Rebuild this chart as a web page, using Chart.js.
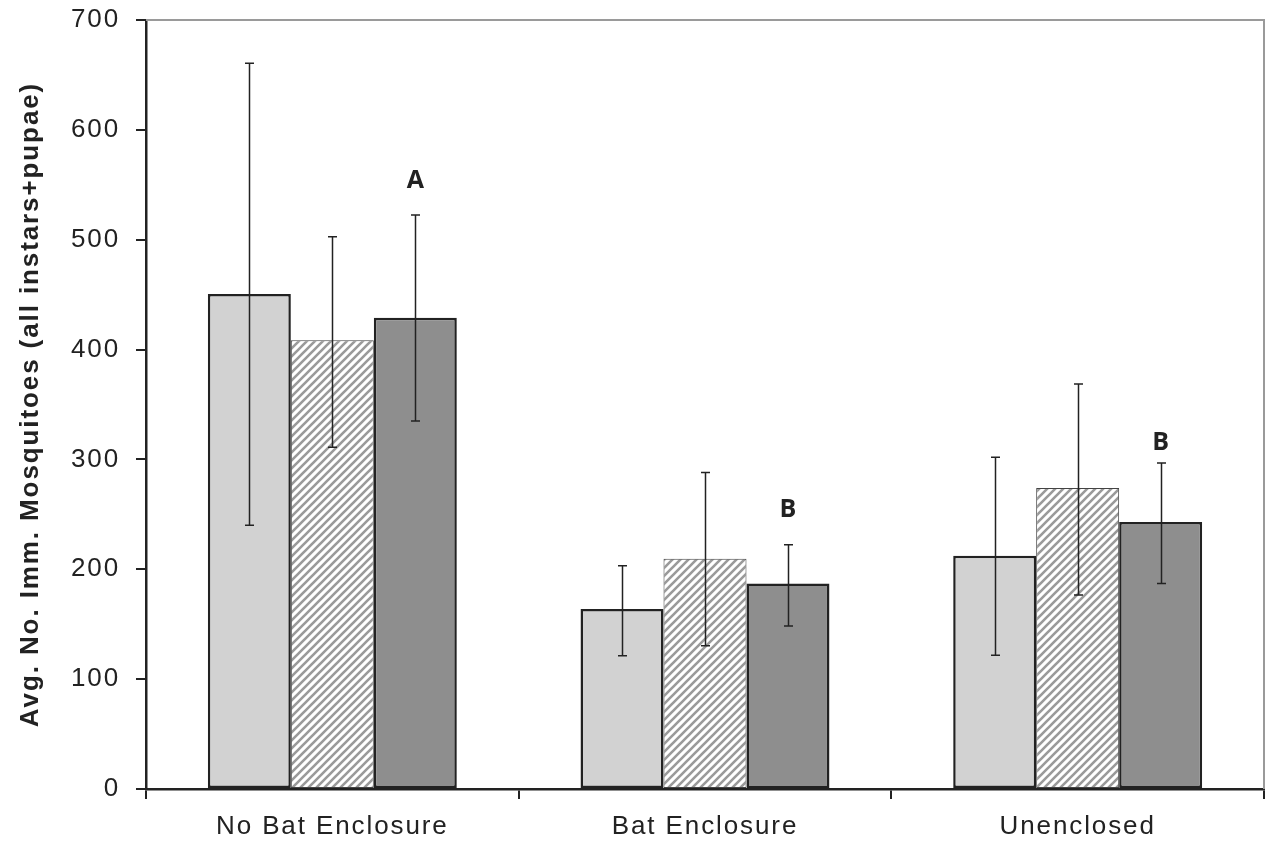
<!DOCTYPE html>
<html>
<head>
<meta charset="utf-8">
<script src="https://cdn.jsdelivr.net/npm/chart.js@4.4.1/dist/chart.umd.min.js"></script>
<style>
  html, body { margin: 0; padding: 0; background: #fff; }
  #wrap { width: 1272px; height: 842px; }
</style>
</head>
<body>
<div id="wrap"><canvas id="c" width="1272" height="842"></canvas></div>
<script>
const categories = ["No Bat Enclosure", "Bat Enclosure", "Unenclosed"];
const seriesLight = [450.6, 163.9, 212.4];
const seriesHatched = [408.4, 209.6, 274];
const seriesDark = [429, 187, 243];
const errHighLight = [660.6, 203.3, 301.9];
const errLowLight = [240, 121.4, 121.7];
const errHighHatched = [502.7, 288, 368.6];
const errLowHatched = [311, 130.4, 176.6];
const errHighDark = [522.5, 222.4, 296.7];
const errLowDark = [335, 148.4, 187];
const letters = ["A", "B", "B"];
const letterValues = [554, 254, 315.3];
const yTicks = [0, 100, 200, 300, 400, 500, 600, 700];

function makeHatch() {
  const s = 8;
  const pc = document.createElement('canvas');
  pc.width = s; pc.height = s;
  const g = pc.getContext('2d');
  g.fillStyle = '#ffffff';
  g.fillRect(0, 0, s, s);
  g.strokeStyle = '#9a9a9a';
  g.lineWidth = 2.6;
  g.beginPath();
  g.moveTo(-2, s + 2); g.lineTo(s + 2, -2);
  g.moveTo(-2, 2); g.lineTo(2, -2);
  g.moveTo(s - 2, s + 2); g.lineTo(s + 2, s - 2);
  g.stroke();
  return document.getElementById('c').getContext('2d').createPattern(pc, 'repeat');
}

const errs = [
  [errLowLight, errHighLight],
  [errLowHatched, errHighHatched],
  [errLowDark, errHighDark]
];

const spacingPlugin = {
  id: 'spacing',
  beforeDraw(chart) {
    chart.ctx.letterSpacing = '1.9px';
  }
};

const errorBarPlugin = {
  id: 'errorBars',
  afterDatasetsDraw(chart) {
    const ctx = chart.ctx;
    const y = chart.scales.y;
    ctx.save();
    ctx.strokeStyle = '#222';
    ctx.lineWidth = 1.5;
    chart.data.datasets.forEach((ds, di) => {
      const meta = chart.getDatasetMeta(di);
      meta.data.forEach((bar, i) => {
        const lo = y.getPixelForValue(errs[di][0][i]);
        const hi = y.getPixelForValue(errs[di][1][i]);
        const x = Math.round(bar.x) + 0.5;
        ctx.beginPath();
        ctx.moveTo(x, lo); ctx.lineTo(x, hi);
        ctx.moveTo(x - 4.5, hi); ctx.lineTo(x + 4.5, hi);
        ctx.moveTo(x - 4.5, lo); ctx.lineTo(x + 4.5, lo);
        ctx.stroke();
      });
    });
    const dmeta = chart.getDatasetMeta(2);
    ctx.letterSpacing = '0px';
    ctx.fillStyle = '#222';
    ctx.font = 'bold 25px "Open Sans", "Liberation Sans", sans-serif';
    ctx.textAlign = 'center';
    ctx.textBaseline = 'middle';
    dmeta.data.forEach((bar, i) => {
      ctx.fillText(letters[i], bar.x, y.getPixelForValue(letterValues[i]));
    });
    ctx.restore();
  },
  afterDraw(chart) {
    const ctx = chart.ctx;
    const a = chart.chartArea;
    ctx.save();
    ctx.strokeStyle = '#9a9a9a';
    ctx.lineWidth = 2;
    ctx.beginPath();
    ctx.moveTo(a.left, a.top);
    ctx.lineTo(a.right, a.top);
    ctx.lineTo(a.right, a.bottom);
    ctx.stroke();
    ctx.restore();
  }
};

const hatch = makeHatch();

new Chart(document.getElementById('c'), {
  type: 'bar',
  data: {
    labels: categories,
    datasets: [
      { data: seriesLight, backgroundColor: '#d2d2d2', borderColor: '#222', borderWidth: 2.5, borderSkipped: false },
      { data: seriesHatched, backgroundColor: hatch, borderColor: '#444', borderWidth: 1, borderSkipped: false },
      { data: seriesDark, backgroundColor: '#8e8e8e', borderColor: '#222', borderWidth: 2.5, borderSkipped: false }
    ]
  },
  plugins: [spacingPlugin, errorBarPlugin],
  options: {
    responsive: false,
    animation: false,
    devicePixelRatio: 1,
    layout: { padding: { left: 0, right: 8, top: 20, bottom: 0 } },
    plugins: { legend: { display: false }, tooltip: { enabled: false } },
    datasets: { bar: { categoryPercentage: 0.668, barPercentage: 1.0 } },
    scales: {
      x: {
        offset: true,
        grid: { display: true, drawOnChartArea: false, drawTicks: true, tickLength: 10, color: '#222', lineWidth: 2, offset: true },
        border: { display: true, color: '#222', width: 2.5 },
        ticks: { color: '#222', font: { family: '"Liberation Sans", Arial, sans-serif', size: 26 }, padding: 12, maxRotation: 0 },
        afterFit(s) { s.height = 53; }
      },
      y: {
        min: 0, max: 700,
        afterBuildTicks(s) { s.ticks = yTicks.map(v => ({ value: v })); },
        grid: { display: true, drawOnChartArea: false, drawTicks: true, tickLength: 10, color: '#222', lineWidth: 2 },
        border: { display: true, color: '#222', width: 2.5 },
        ticks: { color: '#222', font: { family: '"Liberation Sans", Arial, sans-serif', size: 26, lineHeight: 0.3 }, padding: 16 },
        title: {
          display: true,
          text: 'Avg. No. Imm. Mosquitoes (all instars+pupae)',
          color: '#222',
          font: { family: '"Liberation Sans", Arial, sans-serif', size: 26, weight: 'bold' },
          padding: { top: 15, bottom: 0 }
        },
        afterFit(s) { s.width = 146; }
      }
    }
  }
});
</script>
</body>
</html>
